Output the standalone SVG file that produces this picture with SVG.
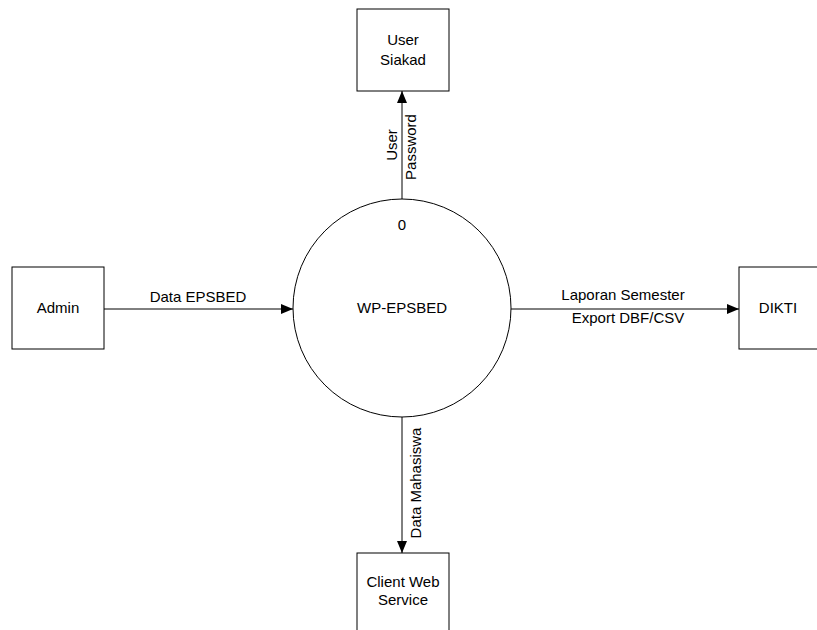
<svg xmlns="http://www.w3.org/2000/svg" width="817" height="630" viewBox="0 0 817 630">
  <style>
    .box { fill: #ffffff; stroke: #000000; stroke-width: 1; }
    .proc { fill: #ffffff; stroke: #000000; stroke-width: 1; }
    .flow { fill: none; stroke: #000000; stroke-width: 1; marker-end: url(#arrow); }
    text { font-family: "Liberation Sans", Arial, sans-serif; font-size: 15px; fill: #000000; }
    .c { text-anchor: middle; }
  </style>
  <defs>
    <marker id="arrow" viewBox="0 0 12 10" refX="12" refY="5" markerWidth="12" markerHeight="10" markerUnits="userSpaceOnUse" orient="auto">
      <path d="M0,0 L12,5 L0,10 Z" fill="#000000"/>
    </marker>
  </defs>
  <rect width="817" height="630" fill="#ffffff"/>

  <!-- data flows -->
  <g id="connectors">
    <line class="flow" x1="402" y1="199" x2="402" y2="91"/>
    <line class="flow" x1="104" y1="309" x2="293" y2="309"/>
    <line class="flow" x1="511" y1="309" x2="739" y2="309"/>
    <line class="flow" x1="402" y1="417" x2="402" y2="553"/>
    <text class="c" transform="translate(397,145) rotate(-90)">User</text>
    <text class="c" transform="translate(416,147) rotate(-90)">Password</text>
    <text class="c" x="198" y="302">Data EPSBED</text>
    <text class="c" x="623" y="300">Laporan Semester</text>
    <text class="c" x="628" y="323">Export DBF/CSV</text>
    <text class="c" transform="translate(421,483) rotate(-90)">Data Mahasiswa</text>
  </g>

  <!-- process 0 -->
  <g id="process-0">
    <circle class="proc" cx="402" cy="308" r="109"/>
    <text class="c" x="402" y="230">0</text>
    <text class="c" x="402" y="313">WP-EPSBED</text>
  </g>

  <!-- external entities -->
  <g id="user-siakad">
    <rect class="box" x="357" y="9" width="92" height="82"/>
    <text class="c" x="403" y="45">User</text>
    <text class="c" x="403" y="65">Siakad</text>
  </g>
  <g id="admin">
    <rect class="box" x="12" y="267" width="92" height="82"/>
    <text class="c" x="58" y="313">Admin</text>
  </g>
  <g id="dikti">
    <rect class="box" x="739" y="267" width="92" height="82"/>
    <text class="c" x="778" y="313">DIKTI</text>
  </g>
  <g id="client-web-service">
    <rect class="box" x="357" y="553" width="92" height="82"/>
    <text class="c" x="403" y="587">Client Web</text>
    <text class="c" x="403" y="605">Service</text>
  </g>
</svg>
